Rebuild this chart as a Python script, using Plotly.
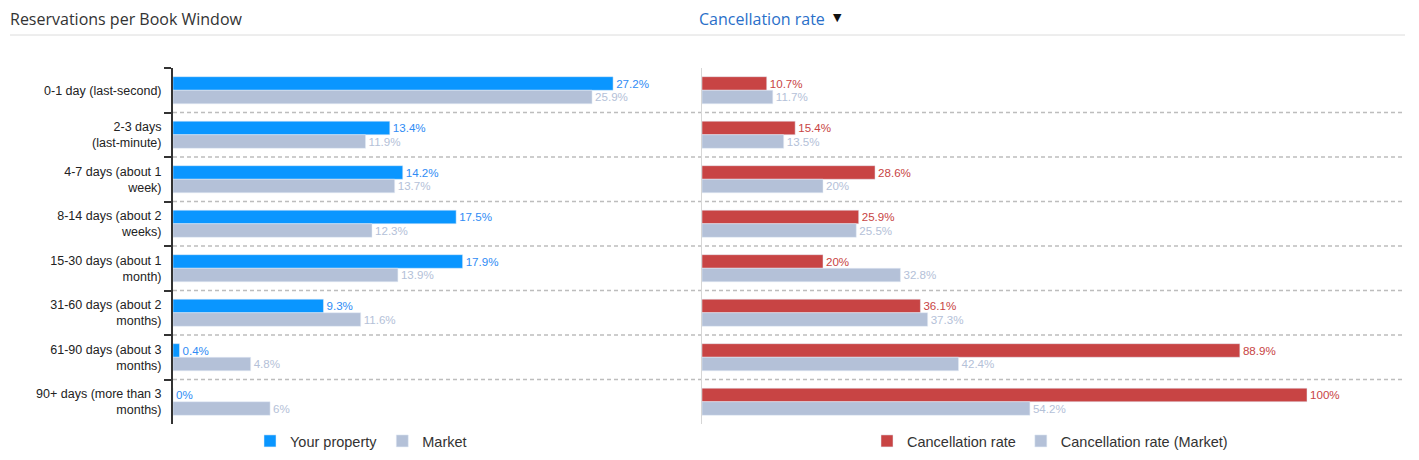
import plotly.graph_objects as go

categories = [
    "0-1 day (last-second)",
    "2-3 days<br>(last-minute)",
    "4-7 days (about 1<br>week)",
    "8-14 days (about 2<br>weeks)",
    "15-30 days (about 1<br>month)",
    "31-60 days (about 2<br>months)",
    "61-90 days (about 3<br>months)",
    "90+ days (more than 3<br>months)",
]
your_property = [27.2, 13.4, 14.2, 17.5, 17.9, 9.3, 0.4, 0]
market = [25.9, 11.9, 13.7, 12.3, 13.9, 11.6, 4.8, 6]
cancel_rate = [10.7, 15.4, 28.6, 25.9, 20, 36.1, 88.9, 100]
cancel_rate_market = [11.7, 13.5, 20, 25.5, 32.8, 37.3, 42.4, 54.2]

OFF = 8  # page body margin
W, H = 1419 - 2 * OFF, 460 - 2 * OFF
BLUE = "#0a96ff"
BLUE_TXT = "#2f8cf5"
GREY = "#b4c1d8"
RED = "#c84444"
LBL_FONT = "Liberation Sans, Arial, sans-serif"
LBL_SIZE = 12.8

def fmt(v):
    return f"{v:g}%"

def px(x):
    return (x - OFF) / W

def py(y):
    return 1 - (y - OFF) / H

fig = go.Figure()
fig.add_trace(go.Bar(y=categories, x=your_property, orientation="h", name="Your property",
                     marker_color=BLUE, text=[fmt(v) for v in your_property], textposition="outside",
                     textfont=dict(color=BLUE_TXT, size=LBL_SIZE, family=LBL_FONT), cliponaxis=False,
                     xaxis="x", yaxis="y", legend="legend"))
fig.add_trace(go.Bar(y=categories, x=market, orientation="h", name="Market",
                     marker_color=GREY, text=[fmt(v) for v in market], textposition="outside",
                     textfont=dict(color=GREY, size=LBL_SIZE, family=LBL_FONT), cliponaxis=False,
                     xaxis="x", yaxis="y", legend="legend"))
fig.add_trace(go.Bar(y=categories, x=cancel_rate, orientation="h", name="Cancellation rate",
                     marker_color=RED, text=[fmt(v) for v in cancel_rate], textposition="outside",
                     textfont=dict(color=RED, size=LBL_SIZE, family=LBL_FONT), cliponaxis=False,
                     xaxis="x2", yaxis="y2", legend="legend2"))
fig.add_trace(go.Bar(y=categories, x=cancel_rate_market, orientation="h", name="Cancellation rate (Market)",
                     marker_color=GREY, text=[fmt(v) for v in cancel_rate_market], textposition="outside",
                     textfont=dict(color=GREY, size=LBL_SIZE, family=LBL_FONT), cliponaxis=False,
                     xaxis="x2", yaxis="y2", legend="legend2"))

y_dom = [py(424), py(68)]
left_x0, left_x1 = 173, 680
right_x0, right_x1 = 702, 1405

shapes = []
# header separator
shapes.append(dict(type="line", xref="paper", yref="paper", x0=px(10), x1=px(1405),
                   y0=py(35), y1=py(35), line=dict(color="#dcdcdc", width=1)))
for i in range(len(categories) - 1):
    shapes.append(dict(type="line", xref="paper", yref="y", x0=px(left_x0), x1=px(right_x1),
                       y0=i + 0.5, y1=i + 0.5, line=dict(color="#bdbdbd", width=1.5, dash="4px,3px"),
                       layer="below"))

fig.update_layout(
    width=W, height=H,
    margin=dict(l=0, r=0, t=0, b=0, autoexpand=False),
    paper_bgcolor="white", plot_bgcolor="rgba(0,0,0,0)",
    barmode="group", bargap=0.39, bargroupgap=0,
    font=dict(family=LBL_FONT, color="#222"),
    xaxis=dict(domain=[px(left_x0), px(left_x1)], range=[0, (left_x1 - left_x0) / 16.18],
               showgrid=False, zeroline=False, showticklabels=False, showline=False, anchor="y"),
    yaxis=dict(domain=y_dom, autorange="reversed", showgrid=False, showline=True,
               linecolor="#333", linewidth=2, ticks="outside", tickson="boundaries",
               ticklen=7, tickcolor="#333", tickwidth=2, ticklabelstandoff=7,
               tickfont=dict(size=12.5, color="#222", family=LBL_FONT), anchor="x"),
    xaxis2=dict(domain=[px(right_x0), px(right_x1)], range=[0, (right_x1 - right_x0) / 6.05],
                showgrid=False, zeroline=False, showticklabels=False, showline=False, anchor="y2"),
    yaxis2=dict(domain=y_dom, autorange="reversed", matches="y", showgrid=False, showline=True,
                linecolor="#d6d6d6", linewidth=1, showticklabels=False, ticks="", anchor="x2"),
    shapes=shapes,
    showlegend=True,
    legend=dict(orientation="h", x=px(250), y=py(441), xanchor="left", yanchor="middle",
                font=dict(size=14.5, color="#333", family=LBL_FONT), itemwidth=30,
                bgcolor="rgba(0,0,0,0)"),
    legend2=dict(orientation="h", x=px(867), y=py(441), xanchor="left", yanchor="middle",
                 font=dict(size=14.5, color="#333", family=LBL_FONT), itemwidth=30,
                 bgcolor="rgba(0,0,0,0)"),
    annotations=[
        dict(text="Reservations per Book Window", xref="paper", yref="paper", x=px(8), y=1,
             xanchor="left", yanchor="top", yshift=2, showarrow=False,
             font=dict(size=16, color="#333", family="Open Sans, sans-serif")),
        dict(text="Cancellation rate",
             xref="paper", yref="paper", x=px(697), y=1,
             xanchor="left", yanchor="top", yshift=2, showarrow=False,
             font=dict(size=16, color="#2a6fc9", family="Open Sans, sans-serif")),
        dict(text="▼", xref="paper", yref="paper", x=px(837), y=py(18),
             xanchor="center", yanchor="middle", showarrow=False,
             font=dict(size=11, color="#111", family="DejaVu Sans, sans-serif")),
    ],
)

fig.write_html("out.html")
